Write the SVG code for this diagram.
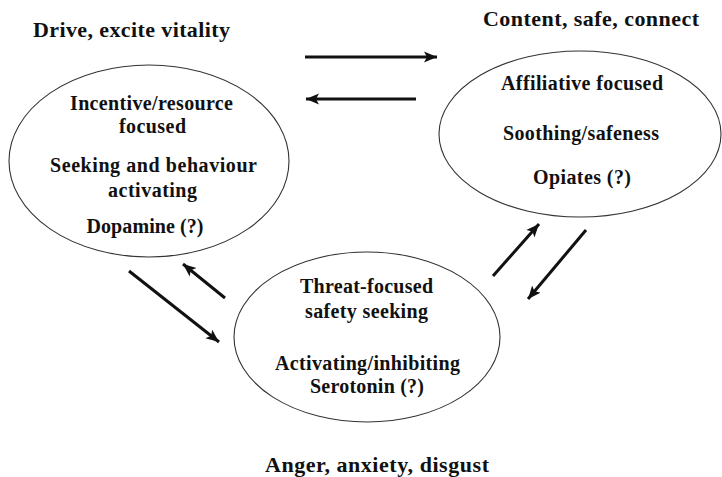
<svg xmlns="http://www.w3.org/2000/svg" width="722" height="477" viewBox="0 0 722 477">
<style>
.t{font-family:"Liberation Serif","Times New Roman",serif;font-weight:bold;fill:#111;text-anchor:middle}
.h{font-size:22px}
.b{font-size:20px}
.e{fill:none;stroke:#333;stroke-width:1.1}
.c{stroke:#111;stroke-width:3;fill:none;marker-end:url(#ah)}
</style>
<defs>
<marker id="ah" markerUnits="userSpaceOnUse" markerWidth="14" markerHeight="12" viewBox="0 0 14 12" refX="13" refY="6" orient="auto">
<path d="M0,0.5 L13,6 L0,11.5 L3,6 Z" fill="#111"/>
</marker>
</defs>
<rect width="722" height="477" fill="#fff"/>
<text class="t h" x="131.5" y="37" textLength="197">Drive, excite vitality</text>
<text class="t h" x="591" y="26" textLength="216">Content, safe, connect</text>
<text class="t h" x="377" y="472" textLength="224">Anger, anxiety, disgust</text>
<g id="drive">
<ellipse class="e" cx="149" cy="161" rx="140" ry="96"/>
<text class="t b" x="151.5" y="110" textLength="163">Incentive/resource</text>
<text class="t b" x="152.5" y="133" textLength="67">focused</text>
<text class="t b" x="153.5" y="172" textLength="207">Seeking and behaviour</text>
<text class="t b" x="152.5" y="197" textLength="89">activating</text>
<text class="t b" x="145" y="233" textLength="117">Dopamine (?)</text>
</g>
<g id="content">
<ellipse class="e" cx="580" cy="134" rx="141" ry="83"/>
<text class="t b" x="582" y="90" textLength="162">Affiliative focused</text>
<text class="t b" x="581" y="140" textLength="156">Soothing/safeness</text>
<text class="t b" x="582" y="184" textLength="98">Opiates (?)</text>
</g>
<g id="threat">
<ellipse class="e" cx="367" cy="337" rx="133" ry="85"/>
<text class="t b" x="366.5" y="293" textLength="133">Threat-focused</text>
<text class="t b" x="366.5" y="318" textLength="123">safety seeking</text>
<text class="t b" x="367.5" y="370" textLength="185">Activating/inhibiting</text>
<text class="t b" x="367" y="393" textLength="114">Serotonin (?)</text>
</g>
<g id="connectors">
<line class="c" x1="305" y1="57" x2="437" y2="57"/>
<line class="c" x1="416" y1="99" x2="306" y2="99"/>
<line class="c" x1="129" y1="271" x2="219" y2="342"/>
<line class="c" x1="225" y1="298" x2="183" y2="264"/>
<line class="c" x1="493" y1="276" x2="539" y2="224"/>
<line class="c" x1="586" y1="230" x2="528" y2="299"/>
</g>
</svg>
